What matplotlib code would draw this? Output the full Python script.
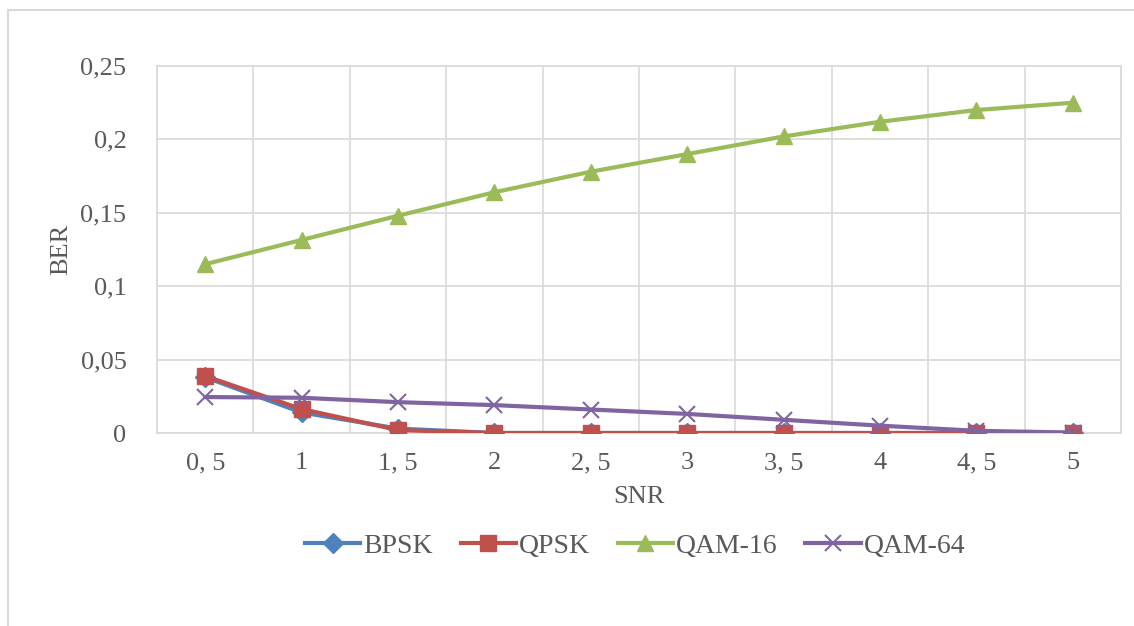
import matplotlib.pyplot as plt
import matplotlib.lines as mlines

plt.rcParams['font.family'] = ['Liberation Serif', 'DejaVu Serif']

# Data
snr_labels = ['0, 5', '1', '1, 5', '2', '2, 5', '3', '3, 5', '4', '4, 5', '5']
bpsk = [0.038, 0.014, 0.003, 0.0, 0.0, 0.0, 0.0, 0.0, 0.0, 0.0]
qpsk = [0.0388, 0.0163, 0.002, 0.0, 0.0, 0.0, 0.0, 0.0, 0.0, 0.0]
qam16 = [0.115, 0.1315, 0.148, 0.164, 0.178, 0.190, 0.202, 0.212, 0.220, 0.225]
qam64 = [0.0245, 0.024, 0.021, 0.019, 0.016, 0.013, 0.009, 0.005, 0.0015, 0.0003]
y_ticks = [0, 0.05, 0.1, 0.15, 0.2, 0.25]
y_tick_labels = ['0', '0,05', '0,1', '0,15', '0,2', '0,25']

text_color = '#595959'
grid_color = '#D9D9D9'

fig = plt.figure(figsize=(11.34, 6.26), dpi=100)
ax = fig.add_axes([157 / 1134, 1 - 433 / 626, (1121 - 157) / 1134, (433 - 66) / 626])

x = list(range(len(snr_labels)))
series = [
    ('BPSK', bpsk, '#4F81BD', 'D', 10),
    ('QPSK', qpsk, '#C0504D', 's', 12),
    ('QAM-16', qam16, '#9BBB59', '^', 12),
    ('QAM-64', qam64, '#8064A2', 'x', 12),
]
handles = []
for name, vals, col, mk, ms in series:
    mew = 1.5 if mk == 'x' else 1
    ax.plot(x, vals, color=col, lw=3, marker=mk, markersize=ms,
            markeredgewidth=mew, markeredgecolor=col, zorder=3)
    handles.append(mlines.Line2D([], [], color=col, lw=3, marker=mk, markersize=ms,
                                 markeredgewidth=mew, markeredgecolor=col))

ax.set_xlim(-0.5, len(x) - 0.5)
ax.set_ylim(0, 0.25)
ax.set_xticks(x)
ax.set_xticklabels(snr_labels)
ax.set_xticks([i - 0.5 for i in range(len(x) + 1)], minor=True)
ax.set_yticks(y_ticks)
ax.set_yticklabels(y_tick_labels)

ax.grid(which='minor', axis='x', color=grid_color, lw=1.2)
ax.grid(which='major', axis='y', color=grid_color, lw=1.2)
ax.set_axisbelow(True)
for s in ax.spines.values():
    s.set_color(grid_color)
    s.set_linewidth(1.2)
ax.tick_params(which='both', length=0, labelsize=19, colors=text_color)
ax.tick_params(axis='x', pad=14)
ax.tick_params(axis='y', pad=22)

ax.set_xlabel('SNR', fontsize=19, color=text_color, labelpad=8)
ax.set_ylabel('BER', fontsize=19, color=text_color, labelpad=6)

ax.legend(handles, [s[0] for s in series], loc='center', bbox_to_anchor=(0.56, 0.128),
          bbox_transform=fig.transFigure, ncol=4, frameon=False, fontsize=20,
          handlelength=2.0, handletextpad=0.1, columnspacing=1.0, labelcolor=text_color)

# Outer chart border (top and left visible)
fig.add_artist(mlines.Line2D([8 / 1134, 1], [1 - 10 / 626, 1 - 10 / 626],
                             transform=fig.transFigure, color=grid_color, lw=1.5))
fig.add_artist(mlines.Line2D([8 / 1134, 8 / 1134], [0, 1 - 10 / 626],
                             transform=fig.transFigure, color=grid_color, lw=1.5))

fig.savefig('out.png', dpi=100)
